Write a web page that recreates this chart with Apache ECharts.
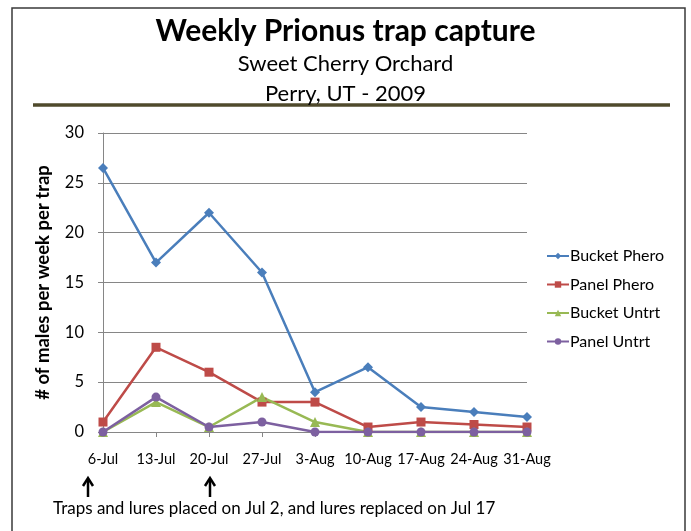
<!DOCTYPE html>
<html><head><meta charset="utf-8">
<script src="https://cdn.jsdelivr.net/npm/echarts@6/dist/echarts.min.js"></script>
<style>html,body{margin:0;padding:0;background:#fff}#c{width:691px;height:531px}</style>
</head><body><div id="c"></div>
<script>
const categories = ['6-Jul','13-Jul','20-Jul','27-Jul','3-Aug','10-Aug','17-Aug','24-Aug','31-Aug'];
const bucketPhero = [26.5, 17, 22, 16, 4, 6.5, 2.5, 2, 1.5];
const panelPhero = [1, 8.5, 6, 3, 3, 0.5, 1, 0.75, 0.5];
const bucketUntrt = [0, 3, 0.5, 3.5, 1, 0, 0, 0, 0];
const panelUntrt = [0, 3.5, 0.5, 1, 0, 0, 0, 0, 0];
const yTicks = [0, 5, 10, 15, 20, 25, 30];

const F = 'Lato, "Open Sans", sans-serif';
const chart = echarts.init(document.getElementById('c'));
function s(name, data, color, symbol, size) {
  return {name, type:'line', data, symbol, symbolSize:size, color,
    lineStyle:{width:2.5, color}, itemStyle:{color}, animation:false};
}
chart.setOption({
  animation:false,
  title:[
    {text:'Weekly Prionus trap capture', left:'center', top:11, textStyle:{fontFamily:F, fontSize:30, fontWeight:'bold', color:'#000'}},
    {text:'Sweet Cherry Orchard', left:'center', top:48, textStyle:{fontFamily:F, fontSize:22, fontWeight:'normal', color:'#000'}},
    {text:'Perry, UT - 2009', left:'center', top:78, textStyle:{fontFamily:F, fontSize:22, fontWeight:'normal', color:'#000'}}
  ],
  grid:{left:103, right:164, top:133, bottom:99},
  legend:{orient:'vertical', left:541, top:243, itemWidth:22, itemHeight:8, itemGap:12.5,
    textStyle:{fontFamily:F, fontSize:16, color:'#000', padding:[0,0,0,-4]},
    data:['Bucket Phero','Panel Phero','Bucket Untrt','Panel Untrt']},
  xAxis:{type:'category', data:categories, boundaryGap:false,
    axisLine:{lineStyle:{color:'#868686', width:1}},
    axisTick:{show:true, length:5, lineStyle:{color:'#868686'}},
    axisLabel:{fontFamily:F, fontSize:14.5, color:'#000', margin:20, interval:0}},
  yAxis:{type:'value', min:0, max:30, interval:5,
    name:'# of males per week per trap', nameLocation:'middle', nameGap:50,
    nameTextStyle:{fontFamily:F, fontSize:18.5, fontWeight:'bold', color:'#000'},
    axisLine:{show:true, lineStyle:{color:'#868686'}},
    axisTick:{show:true, length:5, inside:false, lineStyle:{color:'#868686'}},
    axisLabel:{fontFamily:F, fontSize:16.5, color:'#000', margin:19,
      formatter:v => yTicks.includes(v) ? String(v) : ''},
    splitLine:{lineStyle:{color:'#868686', width:1}}},
  series:[
    s('Bucket Phero', bucketPhero, '#4A7EBB', 'diamond', 10),
    s('Panel Phero', panelPhero, '#BE4B48', 'rect', 9),
    s('Bucket Untrt', bucketUntrt, '#98B954', 'triangle', 10),
    s('Panel Untrt', panelUntrt, '#7D60A0', 'circle', 9)
  ],
  graphic:[
    {type:'rect', shape:{x:12, y:8, width:673, height:540}, style:{fill:'none', stroke:'#3a3a3a', lineWidth:1.5}, silent:true},
    {type:'line', shape:{x1:33, y1:105, x2:670, y2:105}, style:{stroke:'#4F4A2C', lineWidth:3.5}},
    {type:'line', shape:{x1:88, y1:497, x2:88, y2:480}, style:{stroke:'#000', lineWidth:2.5}},
    {type:'polyline', shape:{points:[[83,486],[88,478],[93,486]]}, style:{stroke:'#000', lineWidth:2.5, fill:'none'}},
    {type:'line', shape:{x1:210, y1:497, x2:210, y2:480}, style:{stroke:'#000', lineWidth:2.5}},
    {type:'polyline', shape:{points:[[205,486],[210,478],[215,486]]}, style:{stroke:'#000', lineWidth:2.5, fill:'none'}},
    {type:'text', left:53, top:500, style:{text:'Traps and lures placed on Jul 2, and lures replaced on Jul 17', fontFamily:F, fontSize:17, fill:'#000'}}
  ]
});
</script></body></html>
